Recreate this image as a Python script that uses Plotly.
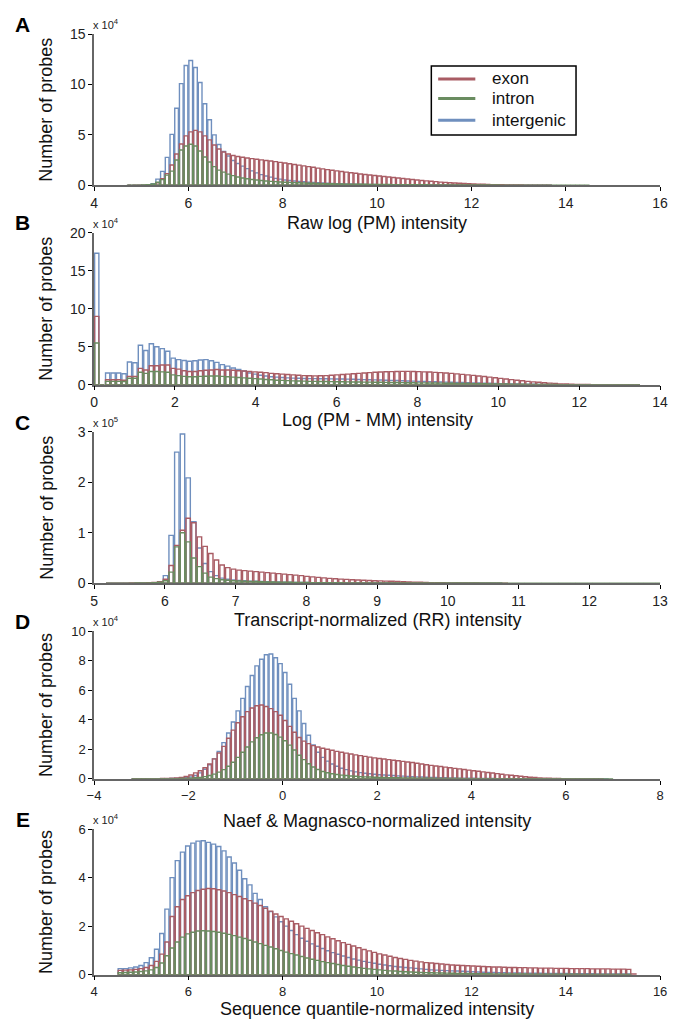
import plotly.graph_objects as go

# ---------------- data (counts per bin; units shown in the "x 10^n" label) ----------------
SERIES = ["exon", "intron", "intergenic"]
COLORS = {"exon": "#a95c64", "intron": "#6a8c60", "intergenic": "#6f8fbe"}

# Panel A: Raw log (PM) intensity, bins of 0.1 starting at 4.7 (x 10^4)
A_start, A_width = 4.7, 0.1
A_intergenic = [0.0, 0.0, 0.005, 0.01, 0.03, 0.15, 0.6, 1.37, 2.77, 5.05,
                7.65, 10.1, 11.9, 12.4, 11.7, 10.2, 8.1, 6.5, 5.0, 4.05,
                3.35, 2.9, 2.45, 2.15, 1.9, 1.65, 1.42, 1.22, 1.05, 0.92,
                0.8, 0.68, 0.6, 0.52, 0.47, 0.42, 0.38, 0.34, 0.3, 0.27,
                0.24, 0.22, 0.2, 0.18, 0.16, 0.15, 0.13, 0.12, 0.1, 0.09,
                0.08, 0.07, 0.065, 0.06, 0.055, 0.05, 0.045, 0.04, 0.035, 0.03,
                0.028, 0.025, 0.022, 0.02, 0.018, 0.016, 0.015, 0.013, 0.012, 0.011,
                0.01, 0.009, 0.008, 0.007, 0.007, 0.006, 0.006, 0.005, 0.005, 0.004,
                0.004, 0.003, 0.003, 0.003, 0.002, 0.002, 0.002, 0.002, 0.002, 0.002]
A_exon = [0.0, 0.0, 0.005, 0.01, 0.02, 0.06, 0.25, 0.65, 1.15, 2.0,
          3.1, 4.1, 4.9, 5.3, 5.45, 5.3, 4.9, 4.5, 4.0, 3.6,
          3.3, 3.1, 2.95, 2.85, 2.78, 2.7, 2.64, 2.58, 2.52, 2.46,
          2.4, 2.34, 2.27, 2.2, 2.13, 2.06, 1.99, 1.92, 1.85, 1.78,
          1.7, 1.62, 1.55, 1.48, 1.42, 1.36, 1.3, 1.24, 1.18, 1.12,
          1.07, 1.02, 0.97, 0.92, 0.87, 0.82, 0.76, 0.71, 0.66, 0.61,
          0.56, 0.51, 0.47, 0.43, 0.39, 0.35, 0.31, 0.28, 0.25, 0.22,
          0.19, 0.17, 0.15, 0.13, 0.11, 0.09, 0.075, 0.06, 0.05, 0.04,
          0.03, 0.025, 0.02, 0.015, 0.01, 0.008, 0.006, 0.005, 0.004, 0.003]
A_intron = [0.002, 0.004, 0.01, 0.03, 0.06, 0.12, 0.3, 0.55, 1.0, 1.4,
            2.5, 3.5, 3.9, 4.07, 3.9, 3.4, 2.8, 2.3, 1.85, 1.5,
            1.3, 1.1, 0.95, 0.82, 0.72, 0.64, 0.57, 0.51, 0.46, 0.42,
            0.38, 0.35, 0.32, 0.3, 0.28, 0.26, 0.24, 0.22, 0.2, 0.19,
            0.17, 0.16, 0.15, 0.14, 0.13, 0.12, 0.11, 0.105, 0.1, 0.095,
            0.09, 0.085, 0.08, 0.075, 0.07, 0.065, 0.06, 0.056, 0.052, 0.048,
            0.045, 0.042, 0.04, 0.038, 0.035, 0.033, 0.03, 0.028, 0.026, 0.024,
            0.022, 0.02, 0.019, 0.018, 0.016, 0.015, 0.014, 0.013, 0.012, 0.011,
            0.01, 0.01, 0.009, 0.009, 0.008, 0.008, 0.007, 0.007, 0.006, 0.006,
            0.005, 0.005, 0.004, 0.004, 0.003, 0.003, 0.002, 0.002]

# Panel B: Log (PM - MM) intensity, bins of 0.135 starting at 0 (x 10^4)
B_start, B_width = 0.0, 0.135
B_intergenic = [17.3, 0.0, 1.55, 1.55, 1.55, 1.45, 3.0, 2.9, 5.2, 4.5,
                5.4, 5.0, 4.75, 4.4, 3.5, 3.3, 3.2, 3.1, 3.15, 3.25,
                3.3, 3.15, 2.95, 2.65, 2.45, 2.2, 2.0, 1.8, 1.55, 1.4,
                1.25, 1.15, 1.06, 1.0, 0.95, 0.9, 0.87, 0.85, 0.83, 0.81,
                0.8, 0.79, 0.78, 0.77, 0.76, 0.75, 0.74, 0.72, 0.7, 0.68,
                0.66, 0.64, 0.62, 0.6, 0.58, 0.56, 0.53, 0.5, 0.48, 0.45,
                0.43, 0.41, 0.39, 0.37, 0.35, 0.33, 0.31, 0.29, 0.27, 0.25,
                0.23, 0.21, 0.19, 0.17, 0.15, 0.13, 0.11, 0.1, 0.08, 0.07,
                0.06, 0.05, 0.04, 0.03, 0.025, 0.02, 0.015, 0.012, 0.01, 0.008,
                0.006, 0.005, 0.004, 0.003, 0.002, 0.002, 0.001, 0.001, 0.001, 0.001]
B_exon = [9.0, 0.0, 0.65, 0.65, 0.65, 0.6, 1.1, 1.1, 2.15, 1.95,
          2.5, 2.5, 2.6, 2.6, 2.15, 2.05, 1.85, 1.75, 1.75, 1.85,
          1.9, 1.95, 2.0, 1.95, 1.95, 1.9, 1.85, 1.8, 1.75, 1.7,
          1.65, 1.6, 1.5, 1.45, 1.4, 1.35, 1.3, 1.25, 1.2, 1.18,
          1.17, 1.18, 1.2, 1.25, 1.3, 1.35, 1.4, 1.45, 1.5, 1.55,
          1.6, 1.65, 1.68, 1.71, 1.73, 1.75, 1.76, 1.76, 1.75, 1.73,
          1.7, 1.67, 1.63, 1.59, 1.54, 1.49, 1.43, 1.37, 1.3, 1.23,
          1.16, 1.08, 1.0, 0.92, 0.84, 0.76, 0.68, 0.6, 0.52, 0.45,
          0.38, 0.32, 0.26, 0.21, 0.16, 0.12, 0.09, 0.07, 0.05, 0.035,
          0.025, 0.018, 0.012, 0.008, 0.005, 0.004, 0.003, 0.002, 0.002, 0.001]
B_intron = [5.5, 0.0, 0.45, 0.45, 0.45, 0.42, 0.85, 0.85, 1.65, 1.5,
            1.75, 1.75, 1.7, 1.65, 1.3, 1.2, 1.1, 1.05, 1.05, 1.1,
            1.12, 1.15, 1.15, 1.1, 1.05, 1.0, 0.95, 0.9, 0.85, 0.8,
            0.75, 0.7, 0.65, 0.6, 0.57, 0.54, 0.51, 0.49, 0.47, 0.45,
            0.44, 0.43, 0.42, 0.41, 0.4, 0.39, 0.38, 0.37, 0.36, 0.35,
            0.34, 0.33, 0.32, 0.31, 0.3, 0.29, 0.28, 0.27, 0.26, 0.25,
            0.24, 0.23, 0.22, 0.21, 0.2, 0.19, 0.18, 0.17, 0.16, 0.15,
            0.14, 0.13, 0.12, 0.11, 0.1, 0.09, 0.08, 0.07, 0.06, 0.05,
            0.045, 0.04, 0.035, 0.03, 0.025, 0.02, 0.018, 0.015, 0.012, 0.01,
            0.008, 0.007, 0.006, 0.005, 0.004, 0.003, 0.003, 0.002, 0.002, 0.001]

# Panel C: Transcript-normalized (RR) intensity, bins of 0.08 starting at 5.17 (x 10^5)
C_start, C_width = 5.17, 0.08
C_intergenic = [0.001, 0.001, 0.001, 0.002, 0.002, 0.003, 0.004, 0.006, 0.01, 0.03,
                0.15, 0.95, 2.6, 2.96, 2.09, 1.22, 0.7, 0.39, 0.23, 0.15,
                0.1, 0.08, 0.065, 0.055, 0.048, 0.042, 0.038, 0.034, 0.03, 0.027,
                0.024, 0.021, 0.019, 0.017, 0.015, 0.013, 0.012, 0.011, 0.01, 0.009,
                0.008, 0.007, 0.006, 0.006, 0.005, 0.005, 0.004, 0.004, 0.003, 0.003,
                0.003, 0.002, 0.002, 0.002, 0.002, 0.002, 0.002, 0.002, 0.002, 0.002,
                0.002, 0.001, 0.001, 0.001, 0.001, 0.001, 0.001, 0.001, 0.001, 0.001]
C_exon = [0.001, 0.001, 0.002, 0.002, 0.003, 0.004, 0.006, 0.01, 0.015, 0.03,
          0.08, 0.35, 0.75, 1.05, 1.29, 1.2, 0.92, 0.73, 0.59, 0.46,
          0.36, 0.31, 0.28, 0.26, 0.25, 0.24, 0.23, 0.22, 0.21, 0.2,
          0.19, 0.18, 0.17, 0.16, 0.15, 0.135, 0.125, 0.115, 0.105, 0.095,
          0.088, 0.082, 0.076, 0.07, 0.065, 0.06, 0.055, 0.05, 0.046, 0.042,
          0.038, 0.034, 0.03, 0.026, 0.022, 0.018, 0.015, 0.012, 0.01, 0.008,
          0.006, 0.005, 0.004, 0.004, 0.003, 0.003, 0.002, 0.002, 0.002, 0.001, 0.001]
C_intron = [0.001, 0.001, 0.001, 0.002, 0.002, 0.003, 0.004, 0.006, 0.01, 0.02,
            0.05, 0.22, 0.72, 1.0, 0.82, 0.5, 0.33, 0.2, 0.12, 0.09,
            0.07, 0.06, 0.05, 0.045, 0.04, 0.036, 0.033, 0.03, 0.027, 0.025,
            0.022, 0.02, 0.018, 0.016, 0.015, 0.013, 0.012, 0.011, 0.01, 0.009,
            0.008, 0.008, 0.007, 0.007, 0.006, 0.006, 0.005, 0.005, 0.005, 0.004,
            0.004, 0.004, 0.004, 0.004, 0.004, 0.003, 0.003, 0.003, 0.003, 0.003,
            0.003, 0.003, 0.003, 0.003, 0.003, 0.003, 0.003, 0.003, 0.003, 0.003,
            0.002, 0.002, 0.002, 0.002, 0.002, 0.002, 0.002, 0.002, 0.002, 0.002,
            0.002, 0.002, 0.002, 0.002, 0.002, 0.002, 0.002, 0.002, 0.002, 0.002,
            0.002, 0.002, 0.002, 0.002, 0.002, 0.002, 0.002, 0.002, 0.002, 0.002]

# Panel D: Naef & Magnasco-normalized intensity, bins of 0.1 starting at -3.2 (x 10^4)
D_start, D_width = -3.2, 0.1
D_intergenic = [0.002, 0.002, 0.003, 0.004, 0.005, 0.007, 0.01, 0.015, 0.02, 0.03,
                0.05, 0.08, 0.12, 0.22, 0.4, 0.65, 0.95, 1.35, 1.85, 2.45,
                3.1, 3.85, 4.6, 5.45, 6.25, 7.0, 7.65, 8.1, 8.4, 8.45,
                8.2, 7.8, 7.2, 6.4, 5.45, 4.6, 3.75, 2.95, 2.3, 1.8,
                1.45, 1.2, 1.0, 0.85, 0.72, 0.62, 0.54, 0.47, 0.42, 0.38,
                0.34, 0.31, 0.28, 0.26, 0.24, 0.22, 0.2, 0.18, 0.16, 0.15,
                0.13, 0.12, 0.11, 0.1, 0.09, 0.08, 0.07, 0.06, 0.055, 0.05,
                0.045, 0.04, 0.035, 0.03, 0.026, 0.022, 0.019, 0.016, 0.014, 0.012,
                0.01, 0.009, 0.008, 0.007, 0.006, 0.005, 0.005, 0.004, 0.004, 0.003,
                0.003, 0.003, 0.002, 0.002, 0.002, 0.002, 0.002, 0.002, 0.002, 0.002, 0.002]
D_exon = [0.002, 0.003, 0.004, 0.006, 0.008, 0.012, 0.018, 0.027, 0.04, 0.06,
          0.1, 0.16, 0.26, 0.4, 0.55, 0.75, 1.0, 1.35, 1.75, 2.2,
          2.75, 3.3, 3.8, 4.2, 4.55, 4.8, 4.95, 5.0, 4.9, 4.75,
          4.55, 4.3, 3.95, 3.55, 3.15, 2.8, 2.55, 2.38, 2.25, 2.15,
          2.07, 2.0, 1.93, 1.86, 1.8, 1.74, 1.68, 1.62, 1.57, 1.52,
          1.47, 1.42, 1.38, 1.34, 1.3, 1.26, 1.22, 1.18, 1.14, 1.1,
          1.05, 1.0, 0.95, 0.91, 0.87, 0.83, 0.79, 0.75, 0.71, 0.67,
          0.63, 0.59, 0.55, 0.51, 0.47, 0.43, 0.39, 0.35, 0.31, 0.27,
          0.24, 0.21, 0.17, 0.14, 0.11, 0.085, 0.065, 0.048, 0.035, 0.025,
          0.018, 0.012, 0.008, 0.006, 0.004, 0.003, 0.002, 0.002, 0.001, 0.001]
D_intron = [0.001, 0.001, 0.002, 0.002, 0.003, 0.004, 0.005, 0.007, 0.01, 0.014,
            0.02, 0.03, 0.045, 0.07, 0.1, 0.15, 0.22, 0.32, 0.45, 0.62,
            0.85, 1.12, 1.45, 1.8, 2.15, 2.5, 2.78, 2.98, 3.1, 3.1,
            3.0, 2.82, 2.58, 2.28, 1.95, 1.6, 1.3, 1.02, 0.8, 0.63,
            0.5, 0.41, 0.34, 0.29, 0.25, 0.22, 0.19, 0.17, 0.15, 0.13,
            0.12, 0.11, 0.1, 0.09, 0.08, 0.075, 0.07, 0.065, 0.06, 0.055,
            0.05, 0.045, 0.04, 0.036, 0.032, 0.028, 0.025, 0.022, 0.02, 0.018,
            0.016, 0.014, 0.012, 0.011, 0.01, 0.009, 0.008, 0.007, 0.006, 0.006,
            0.005, 0.005, 0.004, 0.004, 0.004, 0.003, 0.003, 0.003, 0.003, 0.002,
            0.002, 0.002, 0.002, 0.002, 0.002, 0.002, 0.002, 0.002, 0.002, 0.002,
            0.002, 0.002]

# Panel E: Sequence quantile-normalized intensity, bins of 0.11 starting at 4.5 (x 10^4)
E_start, E_width = 4.5, 0.11
E_intergenic = [0.25, 0.25, 0.28, 0.32, 0.38, 0.5, 0.7, 1.05, 1.7, 2.7,
                4.0, 4.7, 5.05, 5.3, 5.42, 5.5, 5.52, 5.45, 5.38, 5.28,
                5.1, 4.85, 4.6, 4.3, 3.95, 3.7, 3.35, 3.1, 2.8, 2.6,
                2.38, 2.18, 2.0, 1.82, 1.65, 1.5, 1.38, 1.27, 1.17, 1.08,
                0.99, 0.91, 0.84, 0.77, 0.71, 0.65, 0.6, 0.55, 0.51, 0.47,
                0.43, 0.4, 0.37, 0.34, 0.32, 0.3, 0.28, 0.26, 0.24, 0.22,
                0.2, 0.19, 0.18, 0.17, 0.16, 0.15, 0.14, 0.13, 0.12, 0.11,
                0.1, 0.095, 0.09, 0.085, 0.08, 0.076, 0.072, 0.068, 0.065, 0.062,
                0.06, 0.058, 0.056, 0.054, 0.052, 0.05, 0.048, 0.046, 0.044, 0.042,
                0.04, 0.038, 0.036, 0.035, 0.034, 0.033, 0.032, 0.031, 0.03]
E_exon = [0.18, 0.19, 0.2, 0.22, 0.25, 0.3, 0.38, 0.55, 0.85, 1.35,
          2.4, 2.8, 3.1, 3.25, 3.38, 3.47, 3.52, 3.55, 3.54, 3.5,
          3.45, 3.38, 3.3, 3.22, 3.13, 3.05, 2.95, 2.85, 2.74, 2.62,
          2.5, 2.4, 2.3, 2.2, 2.1, 2.0, 1.91, 1.82, 1.73, 1.65,
          1.56, 1.48, 1.4, 1.32, 1.25, 1.18, 1.11, 1.04, 0.98, 0.92,
          0.86, 0.81, 0.76, 0.71, 0.67, 0.63, 0.59, 0.56, 0.53, 0.5,
          0.48, 0.46, 0.44, 0.42, 0.4, 0.39, 0.38, 0.37, 0.36, 0.35,
          0.34, 0.33, 0.32, 0.32, 0.31, 0.3, 0.3, 0.29, 0.29, 0.28,
          0.28, 0.27, 0.27, 0.27, 0.26, 0.26, 0.26, 0.25, 0.25, 0.25,
          0.25, 0.24, 0.24, 0.24, 0.24, 0.23, 0.23, 0.23, 0.22, 0.03]
E_intron = [0.08, 0.09, 0.1, 0.11, 0.13, 0.16, 0.2, 0.3, 0.48, 0.78,
            1.1, 1.35, 1.55, 1.68, 1.75, 1.8, 1.81, 1.8, 1.78, 1.75,
            1.71, 1.66, 1.61, 1.55, 1.49, 1.42, 1.35, 1.28, 1.21, 1.14,
            1.07, 1.0, 0.93, 0.87, 0.81, 0.75, 0.69, 0.64, 0.59, 0.54,
            0.5, 0.46, 0.42, 0.38, 0.35, 0.32, 0.29, 0.26, 0.24, 0.22,
            0.2, 0.18, 0.16, 0.15, 0.13, 0.12, 0.11, 0.1, 0.09, 0.085,
            0.08, 0.075, 0.07, 0.065, 0.06, 0.056, 0.052, 0.048, 0.045, 0.042,
            0.04, 0.038, 0.036, 0.034, 0.032, 0.03, 0.029, 0.028, 0.027, 0.026,
            0.025, 0.024, 0.023, 0.022, 0.021, 0.02, 0.019, 0.018, 0.017, 0.016,
            0.015, 0.015, 0.014, 0.014, 0.013, 0.013, 0.012, 0.012, 0.011]

PANELS = [
    dict(letter="A", start=A_start, width=A_width,
         data={"exon": A_exon, "intron": A_intron, "intergenic": A_intergenic},
         xrange=[4, 16], xticks=[4, 6, 8, 10, 12, 14, 16],
         yrange=[0, 15], yticks=[0, 5, 10, 15], exp="4",
         xtitle="Raw log (PM) intensity"),
    dict(letter="B", start=B_start, width=B_width,
         data={"exon": B_exon, "intron": B_intron, "intergenic": B_intergenic},
         xrange=[0, 14], xticks=[0, 2, 4, 6, 8, 10, 12, 14],
         yrange=[0, 20], yticks=[0, 5, 10, 15, 20], exp="4",
         xtitle="Log (PM - MM) intensity"),
    dict(letter="C", start=C_start, width=C_width,
         data={"exon": C_exon, "intron": C_intron, "intergenic": C_intergenic},
         xrange=[5, 13], xticks=[5, 6, 7, 8, 9, 10, 11, 12, 13],
         yrange=[0, 3], yticks=[0, 1, 2, 3], exp="5",
         xtitle="Transcript-normalized (RR) intensity"),
    dict(letter="D", start=D_start, width=D_width,
         data={"exon": D_exon, "intron": D_intron, "intergenic": D_intergenic},
         xrange=[-4, 8], xticks=[-4, -2, 0, 2, 4, 6, 8],
         yrange=[0, 10], yticks=[0, 2, 4, 6, 8, 10], exp="4",
         xtitle="Naef & Magnasco-normalized intensity"),
    dict(letter="E", start=E_start, width=E_width,
         data={"exon": E_exon, "intron": E_intron, "intergenic": E_intergenic},
         xrange=[4, 16], xticks=[4, 6, 8, 10, 12, 14, 16],
         yrange=[0, 6], yticks=[0, 2, 4, 6], exp="4",
         xtitle="Sequence quantile-normalized intensity"),
]

# ---------------- layout geometry (pixels) ----------------
W, H = 673, 1028
X_LEFT, X_RIGHT = 89, 668
PANEL_Y = [(26.7, 180), (228.3, 382.7), (430.7, 584.3), (633, 783), (834, 982)]
TITLE_Y = [218, 419, 622, 826, 1017]
TICK_SIZE = [14, 14, 14, 13, 13]
FONT = "Liberation Sans, Arial, Helvetica, sans-serif"
NARROW = "Liberation Sans Narrow, Liberation Sans, Arial, sans-serif"


def px(x):
    return x / W


def py(y):
    return 1 - y / H


fig = go.Figure()
annotations = []
shapes = []
layout = dict(width=W, height=H, margin=dict(l=0, r=0, t=0, b=0),
              paper_bgcolor="white", plot_bgcolor="rgba(0,0,0,0)",
              barmode="overlay", showlegend=False,
              font=dict(family=FONT, color="#111"))

draw_order = ["intergenic", "exon", "intron"]

for k, (p, (top, bot)) in enumerate(zip(PANELS, PANEL_Y)):
    n = "" if k == 0 else str(k + 1)
    xa, ya = "x" + n, "y" + n
    tfam = FONT if k < 3 else NARROW
    for s in draw_order:
        vals = p["data"][s]
        centers = [p["start"] + p["width"] * (i + 0.5) for i in range(len(vals))]
        fig.add_trace(go.Bar(
            x=centers, y=vals, width=p["width"] * 0.78,
            marker=dict(color="rgba(0,0,0,0)", line=dict(color=COLORS[s], width=1.4)),
            xaxis=xa, yaxis=ya, showlegend=False, hoverinfo="skip"))
    layout["xaxis" + n] = dict(
        domain=[px(X_LEFT), px(X_RIGHT)], anchor=ya, range=p["xrange"],
        tickmode="array", tickvals=p["xticks"], showgrid=False, zeroline=False,
        showline=True, linecolor="#666", linewidth=1.5, ticks="outside",
        ticklen=4, tickcolor="#000", tickwidth=1,
        tickfont=dict(size=TICK_SIZE[k], family=tfam, color="#222"), fixedrange=True)
    layout["yaxis" + n] = dict(
        domain=[py(bot), py(top)], anchor=xa, range=p["yrange"],
        tickmode="array", tickvals=p["yticks"], showgrid=False, zeroline=False,
        showline=True, linecolor="#666", linewidth=1.5, ticks="outside",
        ticklen=4, tickcolor="#000", tickwidth=1,
        tickfont=dict(size=TICK_SIZE[k], family=tfam, color="#222"), fixedrange=True)
    # panel letter
    annotations.append(dict(text="<b>%s</b>" % p["letter"], x=px(16), y=py(top - 10),
                            xref="paper", yref="paper", showarrow=False,
                            font=dict(size=21, family=FONT, color="#000"),
                            xanchor="center", yanchor="middle"))
    # exponent label
    annotations.append(dict(text="x 10<sup>%s</sup>" % p["exp"], x=px(86), y=py(top - 10),
                            xref="paper", yref="paper", showarrow=False,
                            font=dict(size=11, family=FONT, color="#222"),
                            xanchor="left", yanchor="middle"))
    # y title
    annotations.append(dict(text="Number of probes", x=px(40), y=py((top + bot) / 2),
                            xref="paper", yref="paper", showarrow=False, textangle=-90,
                            font=dict(size=18, family=FONT, color="#111"),
                            xanchor="center", yanchor="middle"))
    # x title
    annotations.append(dict(text=p["xtitle"], x=px((X_LEFT + X_RIGHT) / 2), y=py(TITLE_Y[k]),
                            xref="paper", yref="paper", showarrow=False,
                            font=dict(size=18, family=FONT, color="#111"),
                            xanchor="center", yanchor="middle"))

# legend drawn as a framed box with line samples
LEG_BOX = (434, 59, 582, 129)
LEG_ROWS = [72, 92, 114]
shapes.append(dict(type="rect", xref="paper", yref="paper",
                   x0=px(LEG_BOX[0]), x1=px(LEG_BOX[2]), y0=py(LEG_BOX[3]), y1=py(LEG_BOX[1]),
                   line=dict(color="#000", width=1.5), fillcolor="white", layer="above"))
for s, yy in zip(SERIES, LEG_ROWS):
    shapes.append(dict(type="line", xref="paper", yref="paper",
                       x0=px(441), x1=px(479), y0=py(yy), y1=py(yy),
                       line=dict(color=COLORS[s], width=3), layer="above"))
    annotations.append(dict(text=s, x=px(494), y=py(yy), xref="paper", yref="paper",
                            showarrow=False, xanchor="left", yanchor="middle",
                            font=dict(size=17, family=FONT, color="#111")))

layout["annotations"] = annotations
layout["shapes"] = shapes
fig.update_layout(**layout)

fig.write_html("out.html")
